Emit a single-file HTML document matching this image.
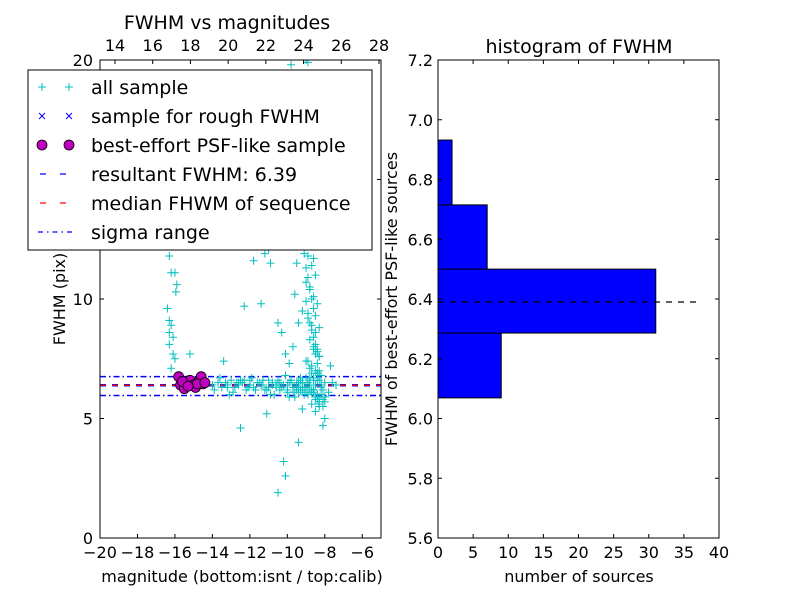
<!DOCTYPE html>
<html><head><meta charset="utf-8">
<style>
html,body{margin:0;padding:0;background:#fff;}
svg{display:block;font-family:"DejaVu Sans","Liberation Sans",sans-serif;}
</style></head>
<body>
<svg id="chart" width="800" height="600" viewBox="0 0 800 600"></svg>
<script>
// ---- left scatter data (magnitude, fwhm) ----
const allMag = [-16.3,-16.2,-16.0,-15.9,-15.95,-16.4,-16.3,-16.2,-16.3,-16.1,-16.3,-16.0,-16.1,-15.2,-16.2,-16.1,
 -13.4,-13.1,-12.5,-12.3,-11.4,-11.1,-11.8,-11.8,-11.2,-11.0,-11.6,-12.1,-11.5,-10.8,-10.3,-10.6,-10.9,-10.5,-10.3,-10.1,
 -9.8,-9.3,-9.0,-8.8,-8.6,-8.9,
 -9.4,-10.2,-10.1,-10.5,-8.1,-8.0,-7.6,-7.7,-8.3,-8.5,
 -9.2,-9.0,-8.8,-9.1,-8.9,-8.7,-9.3,-9.0,-8.8,-8.6,-9.1,-8.9,-8.7,-8.5,-9.0,-8.8,-8.6,-8.4,-9.2,-8.9,-8.7,-8.5,-8.8,-8.6,-8.4,-8.3,-9.0,-8.7,-8.5,-8.3,-8.6,-8.4,-8.2,-8.8,-8.5,-8.3,-8.1,-9.5,-9.6,-9.4,-9.7,-9.9,-10.2,-9.6,-9.3,
 -14.0,-13.7,-13.5,-13.2,-13.0,-12.8,-12.6,-12.4,-12.2,-12.0,-11.8,-11.6,-11.4,-11.2,-11.0,-10.8,-10.6,-10.4,-10.2,-10.0,-9.8,-9.6,-9.4,-9.2,-9.0,-8.8,-8.6,-8.4,-8.2,-8.0,
 -13.9,-13.6,-13.3,-12.9,-12.5,-12.1,-11.7,-11.3,-10.9,-10.5,-10.1,-9.7,-9.3,-8.9,-8.5,-8.1,-12.7,-11.9,-10.7,-9.9,-9.5,-8.7,-8.3,-7.8,-7.4,-12.0,-10.0,-8.0,
 -9.4,-9.3,-9.2,-9.1,-9.0,-8.95,-8.85,-8.75,-9.35,-9.25,-9.15,-9.05,-8.9,-8.8,-8.7,-8.6,-9.2,-9.1,-9.0,-8.9,-8.8,-8.7,-8.6,-8.5,-9.0,-8.9,-8.8,-8.7,-8.6,-8.5,-8.4,-8.3,-8.9,-8.8,-8.7,-8.6,-8.5,-8.4,-8.3,-8.2,
 -9.5,-9.3,-9.1,-8.9,-8.7,-8.5,-8.3,-9.4,-9.2,-9.0,-8.8,-8.6,-8.4,-8.2,-9.6,-9.4,-9.2,-9.0,-8.8,-8.6,-8.4,-8.2,-8.0,-9.7,-9.5,-9.3,-9.1,-8.9,-8.7,-8.5,-8.3,-8.1,
 -11.5,-11.0,-10.5,-10.0,-9.5,-10.8,-10.3,-9.8,-11.3,-12.6,-13.2,-12.3,-11.1,-10.6,-9.9,-10.4,-9.2,-8.6,-8.4,-8.3];
const allFwhm = [11.8,11.1,11.1,10.6,10.3,9.6,9.1,8.9,8.6,8.4,8.1,7.5,7.7,7.7,7.1,12.6,
 7.4,6.0,4.6,9.7,9.8,5.2,11.6,12.6,11.9,12.1,13.1,18.5,17.8,15.5,16.5,13.3,11.5,9.0,8.6,7.7,
 19.8,18.6,20.0,17.0,15.0,19.9,
 4.0,3.2,2.6,1.9,4.7,5.0,6.5,7.2,5.5,5.3,
 17.5,16.8,16.2,15.5,14.8,14.2,13.9,13.5,13.0,12.6,12.2,11.8,11.4,11.0,10.7,10.4,10.1,9.8,9.5,9.2,8.9,8.6,8.3,8.0,7.8,7.6,7.4,7.2,7.0,6.8,6.6,6.9,6.4,6.2,5.9,5.7,5.5,11.5,10.2,9.0,8.0,7.3,12.4,14.6,16.0,
 6.4,6.5,6.3,6.4,6.6,6.3,6.4,6.5,6.2,6.4,6.3,6.5,6.4,6.2,6.6,6.4,6.3,6.5,6.4,6.1,6.6,6.3,6.5,6.2,6.7,6.4,6.1,6.6,6.3,6.5,
 6.2,6.7,6.5,6.1,6.6,6.3,6.2,6.6,6.0,6.5,6.8,6.1,6.7,6.0,5.8,6.2,6.5,6.7,6.0,5.9,6.3,5.6,5.9,6.1,6.4,6.6,6.2,5.9,
 19.0,18.3,17.8,17.2,16.6,15.9,15.3,14.7,16.9,15.6,14.1,13.4,13.1,12.9,12.3,11.7,12.8,11.9,11.3,10.9,10.5,10.0,9.6,9.3,9.9,9.4,9.0,8.7,8.4,8.1,7.9,7.6,7.4,7.1,6.9,6.7,7.7,7.3,7.0,6.8,
 6.4,6.6,6.3,6.5,6.2,6.4,6.6,6.1,6.5,6.3,6.7,6.2,6.0,6.4,5.9,6.3,6.5,6.1,6.6,6.2,5.8,6.0,5.7,6.3,6.5,6.2,6.0,6.4,6.1,5.9,5.6,5.8,
 6.5,6.3,6.6,6.4,6.2,6.5,6.3,6.6,6.4,6.5,6.3,6.6,6.2,6.4,6.5,6.2,5.4,7.9,6.9,8.8];
const bestMag = [-15.8,-15.7,-15.5,-15.4,-15.2,-15.0,-14.9,-14.7,-14.6,-14.5,-15.6,-14.8,-15.3,-14.4];
const bestFwhm = [6.75,6.4,6.25,6.5,6.6,6.4,6.3,6.6,6.75,6.45,6.55,6.45,6.35,6.5];
const resultFwhm = 6.39;
const medianFwhm = 6.39;
const sigmaLo = 5.96, sigmaHi = 6.75;
const xTicksBottom = [-20,-18,-16,-14,-12,-10,-8,-6];
const xTicksTop = [14,16,18,20,22,24,26,28];
const yTicksLeft = [0,5,10,15,20];
// ---- histogram data ----
const binEdges = [6.069,6.286,6.5,6.715,6.932];
const binCounts = [9,31,7,2];
const xTicksHist = [0,5,10,15,20,25,30,35,40];
const yTicksHist = [5.6,5.8,6.0,6.2,6.4,6.6,6.8,7.0,7.2];

const NS='http://www.w3.org/2000/svg';
const svg=document.getElementById('chart');
function mk(tag,attrs,parent){const e=document.createElementNS(NS,tag);for(const k in attrs)e.setAttribute(k,attrs[k]);(parent||svg).appendChild(e);return e;}
function txt(s,attrs,parent){const e=mk('text',attrs,parent);e.textContent=s;return e;}

const L={x0:100,x1:381,y0:60,y1:538};
const lx=m=>L.x0+(m+20)/15*(L.x1-L.x0);
const ly=f=>L.y1-f/20*(L.y1-L.y0);
const tx=t=>115+(t-14)/14*(379-115);

const gl=mk('g',{});


mk('rect',{x:L.x0,y:L.y0,width:L.x1-L.x0,height:L.y1-L.y0,fill:'#fff'},gl);
const clip=mk('clipPath',{id:'lclip'},gl);
mk('rect',{x:L.x0,y:L.y0,width:L.x1-L.x0,height:L.y1-L.y0},clip);
const pts=mk('g',{'clip-path':'url(#lclip)'},gl);
function hline(v,color,dash,w,name){
  const l=mk('line',{x1:L.x0,x2:L.x1,y1:ly(v),y2:ly(v),stroke:color,'stroke-width':w,'stroke-dasharray':dash},pts);
  
  
}
hline(sigmaHi,'#0000ff','6,3,1.5,3',1.5,'sigma-upper-line');
hline(sigmaLo,'#0000ff','6,3,1.5,3',1.5,'sigma-lower-line');
hline(resultFwhm,'#0000ff','6,6',2.5,'resultant-fwhm-line');
hline(medianFwhm,'#ff0000','6,6',1.3,'median-fwhm-line');
for(let i=0;i<allMag.length;i++){
  const x=lx(allMag[i]),y=ly(allFwhm[i]);
  const p=mk('path',{d:`M${x-4},${y}H${x+4}M${x},${y-4}V${y+4}`,stroke:'#00bfbf','stroke-width':1},pts);
  
  
}
for(let i=0;i<bestMag.length;i++){
  const c=mk('circle',{cx:lx(bestMag[i]),cy:ly(bestFwhm[i]),r:5,fill:'#bf00bf',stroke:'#000','stroke-width':0.8},pts);
  
  
}
mk('rect',{x:L.x0,y:L.y0,width:L.x1-L.x0,height:L.y1-L.y0,fill:'none',stroke:'#000','stroke-width':1},gl);
xTicksBottom.forEach(t=>{const x=lx(t);mk('line',{x1:x,x2:x,y1:L.y1,y2:L.y1-4,stroke:'#000'},gl);
  const e=txt('\u2212'+Math.abs(t),{x:x,y:558,'font-size':16,'text-anchor':'middle'},gl);
  });
xTicksTop.forEach(t=>{const x=tx(t);mk('line',{x1:x,x2:x,y1:L.y0,y2:L.y0+4,stroke:'#000'},gl);
  const e=txt(String(t),{x:x,y:51,'font-size':16,'text-anchor':'middle'},gl);
  });
yTicksLeft.forEach(t=>{const y=ly(t);mk('line',{x1:L.x0,x2:L.x0+4,y1:y,y2:y,stroke:'#000'},gl);mk('line',{x1:L.x1,x2:L.x1-4,y1:y,y2:y,stroke:'#000'},gl);
  const e=txt(String(t),{x:93,y:y+6,'font-size':16,'text-anchor':'end'},gl);
  });
</script>
<svg style="position:absolute;left:0;top:0" width="800" height="600">
<text x="227" y="29" font-size="19" text-anchor="middle" font-family="DejaVu Sans,sans-serif">FWHM vs magnitudes</text>
<text x="242" y="582" font-size="16" text-anchor="middle" font-family="DejaVu Sans,sans-serif">magnitude (bottom:isnt / top:calib)</text>
<text transform="translate(65,299) rotate(-90)" font-size="16" text-anchor="middle" font-family="DejaVu Sans,sans-serif">FWHM (pix)</text>
<text x="579" y="53" font-size="19" text-anchor="middle" font-family="DejaVu Sans,sans-serif">histogram of FWHM</text>
<text x="579" y="582" font-size="16" text-anchor="middle" font-family="DejaVu Sans,sans-serif">number of sources</text>
<text transform="translate(397,299) rotate(-90)" font-size="16" text-anchor="middle" font-family="DejaVu Sans,sans-serif">FWHM of best-effort PSF-like sources</text>
</svg>
<script>
const lg=mk('g',{});


mk('rect',{x:28,y:70,width:344,height:180,fill:'#fff',stroke:'#000','stroke-width':1},lg);
const items=['all sample','sample for rough FWHM','best-effort PSF-like sample','resultant FWHM: 6.39','median FHWM of sequence','sigma range'];
items.forEach((s,i)=>{
  const y=87+i*29;
  if(i===0){[42,69].forEach(x=>mk('path',{d:`M${x-4},${y}H${x+4}M${x},${y-4}V${y+4}`,stroke:'#00bfbf'},lg));}
  if(i===1){[42,69].forEach(x=>mk('path',{d:`M${x-3},${y-3}L${x+3},${y+3}M${x-3},${y+3}L${x+3},${y-3}`,stroke:'#0000ff'},lg));}
  if(i===2){[42,69].forEach(x=>mk('circle',{cx:x,cy:y,r:5,fill:'#bf00bf',stroke:'#000','stroke-width':0.8},lg));}
  if(i===3){mk('line',{x1:38,x2:74,y1:y,y2:y,stroke:'#0000ff','stroke-dasharray':'6,14','stroke-dashoffset':-2,'stroke-width':1.2},lg);}
  if(i===4){mk('line',{x1:38,x2:74,y1:y,y2:y,stroke:'#ff0000','stroke-dasharray':'6,14','stroke-dashoffset':-2,'stroke-width':1.2},lg);}
  if(i===5){mk('line',{x1:38,x2:74,y1:y,y2:y,stroke:'#0000ff','stroke-dasharray':'5,4,1.5,4','stroke-width':1.2},lg);}
  const t=txt(s,{x:91,y:y+7,'font-size':19},lg);
  
  
});

const H={x0:438,x1:719,y0:60,y1:538};
const hx=c=>H.x0+c/40*(H.x1-H.x0);
const hy=f=>H.y1-(f-5.6)/1.6*(H.y1-H.y0);
const gh=mk('g',{});


binCounts.forEach((c,i)=>{
  const yTop=hy(binEdges[i+1]),yBot=hy(binEdges[i]);
  const r=mk('rect',{x:hx(0),y:yTop,width:hx(c)-hx(0),height:yBot-yTop,fill:'#0000ff',stroke:'#000','stroke-width':1},gh);
  
  
});
const dl=mk('line',{x1:hx(0),x2:hx(37),y1:hy(resultFwhm),y2:hy(resultFwhm),stroke:'#000','stroke-dasharray':'6,6','stroke-width':1.2},gh);


mk('rect',{x:H.x0,y:H.y0,width:H.x1-H.x0,height:H.y1-H.y0,fill:'none',stroke:'#000'},gh);
xTicksHist.forEach(t=>{const x=hx(t);mk('line',{x1:x,x2:x,y1:H.y1,y2:H.y1-4,stroke:'#000'},gh);mk('line',{x1:x,x2:x,y1:H.y0,y2:H.y0+4,stroke:'#000'},gh);
  const e=txt(String(t),{x:x,y:558,'font-size':16,'text-anchor':'middle'},gh);
  });
yTicksHist.forEach(t=>{const y=hy(t);mk('line',{x1:H.x0,x2:H.x0+4,y1:y,y2:y,stroke:'#000'},gh);mk('line',{x1:H.x1,x2:H.x1-4,y1:y,y2:y,stroke:'#000'},gh);
  const e=txt(t.toFixed(1),{x:433,y:y+6,'font-size':16,'text-anchor':'end'},gh);
  });
</script>
</body></html>
